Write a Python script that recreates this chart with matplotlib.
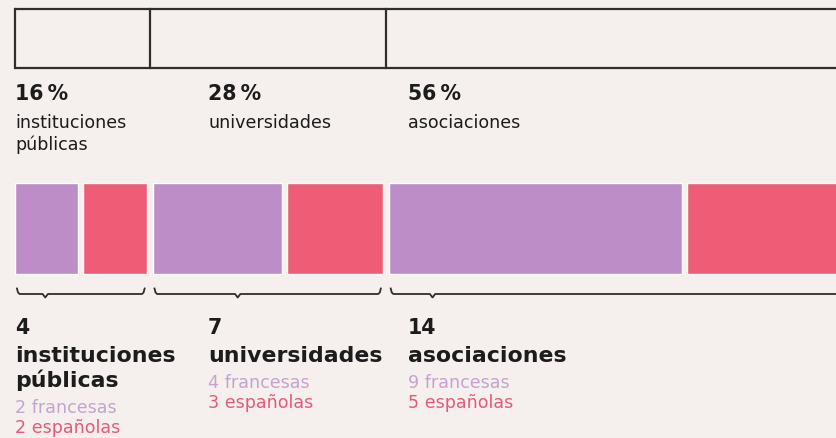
import matplotlib
matplotlib.use("Agg")
import matplotlib.pyplot as plt

# ---- data ----
categories_top = ["instituciones\npúblicas", "universidades", "asociaciones"]
categories_bottom = ["instituciones\npúblicas", "universidades", "asociaciones"]
percentages = [16, 28, 56]
totals = [4, 7, 14]
francesas = [2, 4, 9]
espanolas = [2, 3, 5]
fr_label = "francesas"
es_label = "españolas"

# ---- style / layout ----
W, H, DPI = 836, 438, 100
BG = "#f5f0ed"
PURPLE = "#bc8dc6"
RED = "#ee5c76"
TXT_PURPLE = "#c4a4cc"
TXT_RED = "#e55a7a"
DARK = "#1c1c1c"
LINE = "#2e2e2e"
FONT = ["DejaVu Sans"]

PX_LEFT = 15.0        # pixel x of the first unit
PX_PER_UNIT = 32.9    # pixels per organisation
GROUP_GAP = 0.18      # gap between groups (units)
INNER_GAP = 0.15      # gap between fr / es bars (units)
LABEL_COLS_PX = [15, 208, 408]
BRACKET_TICK_FRAC = [0.23, 0.37, 0.095]

fig = plt.figure(figsize=(W / DPI, H / DPI), dpi=DPI)
fig.patch.set_facecolor(BG)
ax = fig.add_axes([0, 0, 1, 1])
ax.set_facecolor(BG)
ax.set_xlim(-PX_LEFT / PX_PER_UNIT, (W - PX_LEFT) / PX_PER_UNIT)
ax.set_ylim(H, 0)
ax.axis("off")

def px2u(px):
    return (px - PX_LEFT) / PX_PER_UNIT

# group starts
starts = []
cum = 0.0
for i, t in enumerate(totals):
    starts.append(cum + i * GROUP_GAP)
    cum += t
ends = [s + t for s, t in zip(starts, totals)]

# ---- top boxes (proportional) ----
box_top, box_bot = 9, 68
total_all = sum(totals)
bx = [0.0]
acc = 0.0
for i, p in enumerate(percentages):
    acc += p / 100 * total_all
    if i < len(percentages) - 1:
        bx.append(acc + (i + 0.5) * GROUP_GAP)
right_edge = ax.get_xlim()[1] + 1
ax.plot([bx[0], right_edge], [box_top, box_top], color=LINE, lw=1.6, solid_capstyle="butt")
ax.plot([bx[0], right_edge], [box_bot, box_bot], color=LINE, lw=1.6, solid_capstyle="butt")
for x in bx:
    ax.plot([x, x], [box_top, box_bot], color=LINE, lw=1.6)

# ---- top labels ----
for i, (p, name) in enumerate(zip(percentages, categories_top)):
    x = px2u(LABEL_COLS_PX[i])
    ax.text(x, 100, f"{p}\u2009%", family=FONT, fontweight="bold", fontsize=14.8,
            color=DARK, va="baseline", ha="left")
    for j, line in enumerate(name.split("\n")):
        ax.text(x, 128 + j * 22, line, family=FONT, fontsize=12.6,
                color=DARK, va="baseline", ha="left")

# ---- bars ----
bar_y, bar_h = 228.5, 91
for s, f, e in zip(starts, francesas, espanolas):
    ax.barh(bar_y, f - INNER_GAP / 2, left=s, height=bar_h, color=PURPLE,
            edgecolor="white", linewidth=1.0)
    ax.barh(bar_y, e - INNER_GAP / 2, left=s + f + INNER_GAP / 2, height=bar_h,
            color=RED, edgecolor="white", linewidth=1.0)

# ---- brackets ----
for i, (s, e) in enumerate(zip(starts, ends)):
    x0, x1 = s + 0.06, e - 0.06
    tick = s + BRACKET_TICK_FRAC[i] * (e - s)
    c = 0.08
    xs = [x0, x0 + c * 0.4, x0 + c, tick - c, tick, tick + c, x1 - c, x1 - c * 0.4, x1]
    ys = [288.5, 292.5, 294, 294, 297.5, 294, 294, 292.5, 288.5]
    ax.plot(xs, ys, color=LINE, lw=1.3, solid_joinstyle="round")

# ---- bottom labels ----
for i, (t, name, f, e) in enumerate(zip(totals, categories_bottom, francesas, espanolas)):
    x = px2u(LABEL_COLS_PX[i])
    ax.text(x, 334, f"{t}", family=FONT, fontweight="bold", fontsize=14.8,
            color=DARK, va="baseline", ha="left")
    y = 362
    lines = name.split("\n")
    for j, line in enumerate(lines):
        ax.text(x, y, line, family=FONT, fontweight="bold", fontsize=15.8,
                color=DARK, va="baseline", ha="left")
        if j < len(lines) - 1:
            y += 25
    y += 26
    ax.text(x, y, f"{f} {fr_label}", family=FONT, fontsize=12.6,
            color=TXT_PURPLE, va="baseline", ha="left")
    y += 20
    ax.text(x, y, f"{e} {es_label}", family=FONT, fontsize=12.6,
            color=TXT_RED, va="baseline", ha="left")

fig.savefig("out.png", dpi=DPI, facecolor=BG)
